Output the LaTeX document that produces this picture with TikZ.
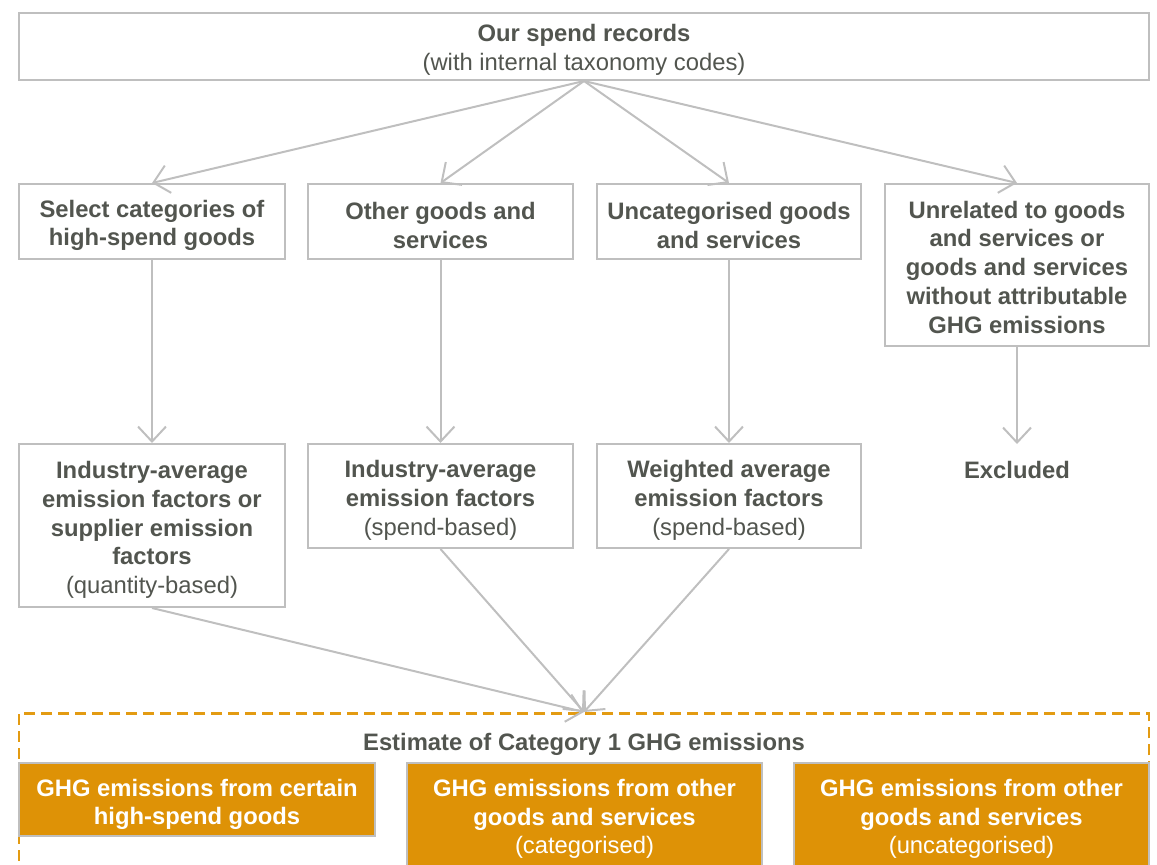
\documentclass[tikz,border=0pt]{standalone}
\usepackage{fontspec}
\setmainfont{Liberation Sans}
\usetikzlibrary{arrows.meta}
\definecolor{txt}{HTML}{52554F}
\definecolor{ln}{HTML}{BFBFBF}
\definecolor{org}{HTML}{DE9206}
\definecolor{dsh}{HTML}{E39B12}
\begin{document}
\begin{tikzpicture}[x=1pt,y=-1pt,
  every node/.style={font=\fontsize{23.8}{28.75}\selectfont, text=txt, align=center, inner sep=0pt},
  gbox/.style={draw=ln, line width=2pt, fill=white},
  obox/.style={draw=ln, line width=2.5pt, fill=org},
  wtxt/.style={text=white},
  arr/.style={draw=ln, line width=2pt, -{Straight Barb[length=15pt,width=28pt,line width=2pt]}},
  ]
\useasboundingbox (0,0) rectangle (1157,865);
% top box
\node[gbox, minimum width=1130pt, minimum height=67pt] (top) at (584,46.5) {};
\node (top-t) at (584,49.5) {\textbf{Our spend records}\\(with internal taxonomy codes)};
% row 2
\node[gbox, minimum width=266pt, minimum height=75pt] (a) at (152,221.5) {};
\node (a-t) at (152,225.5) {\textbf{Select categories of}\\\textbf{high-spend goods}};
\node[gbox, minimum width=265pt, minimum height=75pt] (b) at (440.5,221.5) {};
\node (b-t) at (440.5,225.5) {\textbf{Other goods and}\\\textbf{services}};
\node[gbox, minimum width=264pt, minimum height=75pt] (c) at (729,221.5) {};
\node (c-t) at (729,225.5) {\textbf{Uncategorised goods}\\\textbf{and services}};
\node[gbox, minimum width=264pt, minimum height=162pt] (d) at (1017,265) {};
\node (d-t) at (1017,267) {\textbf{Unrelated to goods}\\\textbf{and services or}\\\textbf{goods and services}\\\textbf{without attributable}\\\textbf{GHG emissions}};
% row 3
\node[gbox, minimum width=266pt, minimum height=163pt] (a3) at (152,525.5) {};
\node (a3-t) at (152,530) {\textbf{Industry-average}\\\textbf{emission factors or}\\\textbf{supplier emission}\\\textbf{factors}\\(quantity-based)};
\node[gbox, minimum width=265pt, minimum height=104pt] (b3) at (440.5,496) {};
\node (b3-t) at (440.5,500.5) {\textbf{Industry-average}\\\textbf{emission factors}\\(spend-based)};
\node[gbox, minimum width=264pt, minimum height=104pt] (c3) at (729,496) {};
\node (c3-t) at (729,500.5) {\textbf{Weighted average}\\\textbf{emission factors}\\(spend-based)};
\node[anchor=north, minimum height=52pt] (ex) at (1017,444) {\textbf{Excluded}};
% estimate area
\node[draw=dsh, line width=2.5pt, dash pattern=on 11pt off 6pt, minimum width=1130pt, minimum height=170pt, anchor=north] (est) at (584,712) {};
\node (est-t) at (584,744) {\textbf{Estimate of Category 1 GHG emissions}};
\node[obox, minimum width=356pt, minimum height=73pt] (o1) at (197,799.5) {};
\node[wtxt] (o1-t) at (197,804.5) {\textbf{GHG emissions from certain}\\\textbf{high-spend goods}};
\node[obox, minimum width=355pt, minimum height=112pt] (o2) at (584.5,819) {};
\node[wtxt] (o2-t) at (584.5,819) {\textbf{GHG emissions from other}\\\textbf{goods and services}\\(categorised)};
\node[obox, minimum width=355pt, minimum height=112pt] (o3) at (971.5,819) {};
\node[wtxt] (o3-t) at (971.5,819) {\textbf{GHG emissions from other}\\\textbf{goods and services}\\(uncategorised)};
% connectors
\draw[arr] (top.south) -- (a.north);
\draw[arr] (top.south) -- (b.north);
\draw[arr] (top.south) -- (c.north);
\draw[arr] (top.south) -- (d.north);
\draw[arr] (a.south) -- (a3.north);
\draw[arr] (b.south) -- (b3.north);
\draw[arr] (c.south) -- (c3.north);
\draw[arr] (d.south) -- (ex.north);
\draw[arr] (a3.south) -- (est.north);
\draw[arr] (b3.south) -- (est.north);
\draw[arr] (c3.south) -- (est.north);
\end{tikzpicture}
\end{document}
